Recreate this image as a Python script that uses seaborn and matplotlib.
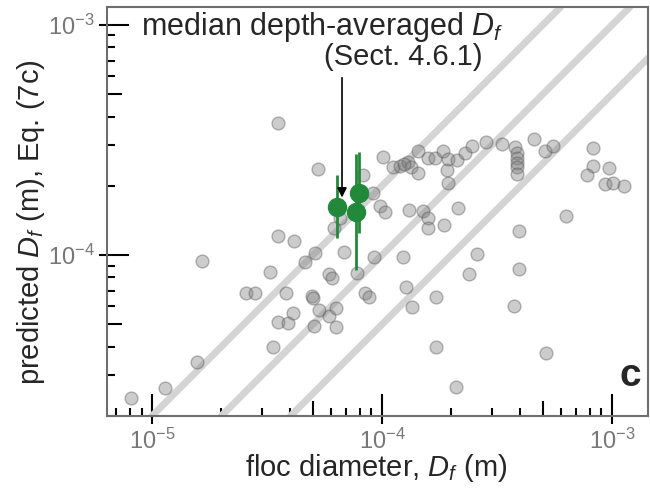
import numpy as np
import pandas as pd
import matplotlib
matplotlib.use("Agg")
import matplotlib.pyplot as plt
import seaborn as sns
from matplotlib.ticker import FixedLocator, NullLocator

sns.set_style("white")
plt.rcParams['font.family'] = ['Liberation Sans', 'DejaVu Sans']
plt.rcParams['mathtext.fontset'] = 'custom'
plt.rcParams['mathtext.rm'] = 'Liberation Sans'
plt.rcParams['mathtext.it'] = 'Liberation Sans:italic'

# ------------------------------
# Data
# ------------------------------
floc_diameter = [
    8.10e-6, 1.14e-5, 1.57e-5, 1.65e-5, 2.56e-5, 2.80e-5, 3.26e-5, 3.36e-5, 3.53e-5, 3.53e-5,
    4.14e-5, 3.53e-5, 3.90e-5, 3.83e-5, 4.10e-5, 4.63e-5, 5.11e-5, 4.96e-5, 5.02e-5, 5.27e-5,
    5.32e-5, 5.06e-5, 5.88e-5, 6.06e-5, 5.88e-5, 6.31e-5, 6.31e-5, 6.18e-5, 6.57e-5, 6.84e-5,
    7.79e-5, 8.43e-5, 8.78e-5, 9.23e-5, 8.27e-5, 9.14e-5, 9.80e-5, 1.03e-4, 1.01e-4, 1.12e-4,
    1.20e-4, 1.23e-4, 1.27e-4, 1.35e-4, 1.30e-4, 1.34e-4, 1.25e-4, 1.43e-4, 1.43e-4, 1.58e-4,
    1.70e-4, 1.84e-4, 1.92e-4, 1.94e-4, 2.12e-4, 2.30e-4, 2.46e-4, 2.83e-4, 3.32e-4, 3.79e-4,
    3.86e-4, 3.86e-4, 3.86e-4, 3.86e-4, 3.86e-4, 4.58e-4, 5.11e-4, 5.54e-4, 8.27e-4, 8.27e-4,
    7.79e-4, 9.70e-4, 9.32e-4, 1.01e-3, 1.13e-3, 6.31e-4, 3.94e-4, 1.94e-4, 2.14e-4, 1.31e-4,
    1.51e-4, 1.58e-4, 1.58e-4, 1.86e-4, 2.59e-4, 2.39e-4, 3.94e-4, 1.72e-4, 3.75e-4, 1.72e-4,
    5.16e-4, 2.10e-4,
]
predicted_df = [
    2.39e-5, 2.64e-5, 3.42e-5, 9.42e-5, 6.84e-5, 6.84e-5, 8.43e-5, 3.98e-5, 3.75e-4, 1.21e-4,
    1.15e-4, 5.11e-5, 5.06e-5, 6.84e-5, 5.60e-5, 9.32e-5, 1.02e-4, 6.63e-5, 6.50e-5, 2.37e-4,
    5.77e-5, 4.91e-5, 8.27e-5, 7.94e-5, 5.43e-5, 5.88e-5, 4.86e-5, 1.31e-4, 1.45e-4, 1.03e-4,
    8.35e-5, 6.84e-5, 6.57e-5, 9.80e-5, 2.23e-4, 1.86e-4, 1.63e-4, 1.54e-4, 2.67e-4, 2.41e-4,
    2.44e-4, 9.80e-5, 7.26e-5, 5.94e-5, 2.54e-4, 2.41e-4, 2.49e-4, 2.83e-4, 2.27e-4, 2.64e-4,
    2.64e-4, 2.83e-4, 2.34e-4, 2.62e-4, 2.59e-4, 2.78e-4, 2.98e-4, 3.10e-4, 3.04e-4, 2.95e-4,
    2.78e-4, 2.64e-4, 2.51e-4, 2.41e-4, 2.25e-4, 3.19e-4, 2.83e-4, 2.98e-4, 2.92e-4, 2.44e-4,
    2.23e-4, 2.39e-4, 2.04e-4, 2.06e-4, 2.00e-4, 1.48e-4, 1.27e-4, 2.06e-4, 1.60e-4, 1.57e-4,
    1.55e-4, 1.45e-4, 1.31e-4, 1.35e-4, 1.01e-4, 8.27e-5, 8.69e-5, 6.57e-5, 6.00e-5, 3.98e-5,
    3.75e-5, 2.67e-5,
]

# median depth-averaged floc diameters with ranges
median_floc = [6.37e-5, 7.94e-5, 7.71e-5]
median_pred = [1.62e-4, 1.86e-4, 1.54e-4]
median_pred_low = [1.19e-4, 1.25e-4, 8.6e-5]
median_pred_high = [2.23e-4, 2.81e-4, 2.75e-4]

ratio_lines = [2.0, 1.0, 0.5]

x_limits = (6.37e-6, 1.435e-3)
y_limits = (2.0e-5, 1.197e-3)
x_major = [1e-5, 1e-4, 1e-3]
y_major = [1e-4, 1e-3]

df = pd.DataFrame({"floc": floc_diameter, "pred": predicted_df})


def minor_in_range(lo, hi):
    vals = []
    for e in range(int(np.floor(np.log10(lo))), int(np.ceil(np.log10(hi))) + 1):
        for m in range(2, 10):
            v = m * 10.0 ** e
            if lo <= v <= hi:
                vals.append(v)
    return vals


# ------------------------------
# Figure
# ------------------------------
fig = plt.figure(figsize=(6.5, 4.98), dpi=100)
ax = fig.add_axes([0.1646, 0.1647, 0.8324, 0.8213])
ax.set_xscale("log")
ax.set_yscale("log")
ax.set_xlim(*x_limits)
ax.set_ylim(*y_limits)

for r in ratio_lines:
    ax.axline((1e-5, r * 1e-5), (1e-3, r * 1e-3), color="#d4d4d4", lw=5, zorder=1)

sns.scatterplot(
    data=df, x="floc", y="pred", ax=ax,
    color="#808080", alpha=0.4, s=85,
    edgecolor="#505050", linewidth=1.0, zorder=2, legend=False,
)

green = "#23893a"
yerr = [np.array(median_pred) - np.array(median_pred_low),
        np.array(median_pred_high) - np.array(median_pred)]
ax.errorbar(median_floc, median_pred, yerr=yerr, fmt="o", color=green,
            ms=13, elinewidth=2.0, capsize=0, zorder=4)

# annotation
ax.annotate("", xy=(6.7e-5, 1.73e-4), xytext=(6.7e-5, 6.06e-4),
            arrowprops=dict(arrowstyle="-|>", color="black", lw=1.2, mutation_scale=14),
            zorder=5)
ax.text(0.397, 0.951, "median depth-averaged $D_f$", transform=ax.transAxes,
        ha="center", va="center", fontsize=22)
ax.text(0.547, 0.878, "(Sect. 4.6.1)", transform=ax.transAxes,
        ha="center", va="center", fontsize=21)
ax.text(0.967, 0.098, "c", transform=ax.transAxes, ha="center", va="center",
        fontsize=28, fontweight="bold")

# spines
for side in ["top", "right", "bottom", "left"]:
    ax.spines[side].set_visible(True)
    ax.spines[side].set_color("#6e6e6e")
    ax.spines[side].set_linewidth(1.5)

# ticks: inward on main axes
ax.xaxis.set_major_locator(FixedLocator(x_major))
ax.yaxis.set_major_locator(FixedLocator(y_major))
ax.xaxis.set_minor_locator(FixedLocator(minor_in_range(*x_limits)))
ax.yaxis.set_minor_locator(FixedLocator(minor_in_range(*y_limits)))
ax.tick_params(which="major", direction="in", length=16, width=1.5, color="black",
               bottom=True, left=True, top=False, right=False,
               labelbottom=False, labelleft=False)
ax.tick_params(which="minor", direction="in", length=5.5, width=1.5, color="black",
               bottom=True, left=True, top=False, right=False,
               labelbottom=False, labelleft=False)

# longer tick at the 5s
for axis in (ax.xaxis, ax.yaxis):
    locs = axis.get_minorticklocs()
    ticks = axis.get_minor_ticks(len(locs))
    for loc, tick in zip(locs, ticks):
        mant = loc / 10 ** np.floor(np.log10(loc) + 1e-9)
        if abs(mant - 5) < 0.01:
            tick.tick1line.set_markersize(11)

# outward part of major ticks + labels
secx = ax.secondary_xaxis("bottom")
secy = ax.secondary_yaxis("left")
for sec, axis, major in ((secx, secx.xaxis, x_major), (secy, secy.yaxis, y_major)):
    axis.set_major_locator(FixedLocator(major))
    axis.set_minor_locator(NullLocator())
    sec.tick_params(which="major", direction="out", length=6, width=1.5, color="black",
                    labelsize=17, labelcolor="#777777", pad=3)
    for s in sec.spines.values():
        s.set_visible(False)

ax.set_xlabel("floc diameter, $D_f$ (m)", fontsize=21)
ax.set_ylabel("predicted $D_f$ (m), Eq. (7c)", fontsize=21)
ax.xaxis.set_label_coords(0.497, -0.088)
ax.yaxis.set_label_coords(-0.11, 0.474)

fig.savefig("out.png", dpi=100)
